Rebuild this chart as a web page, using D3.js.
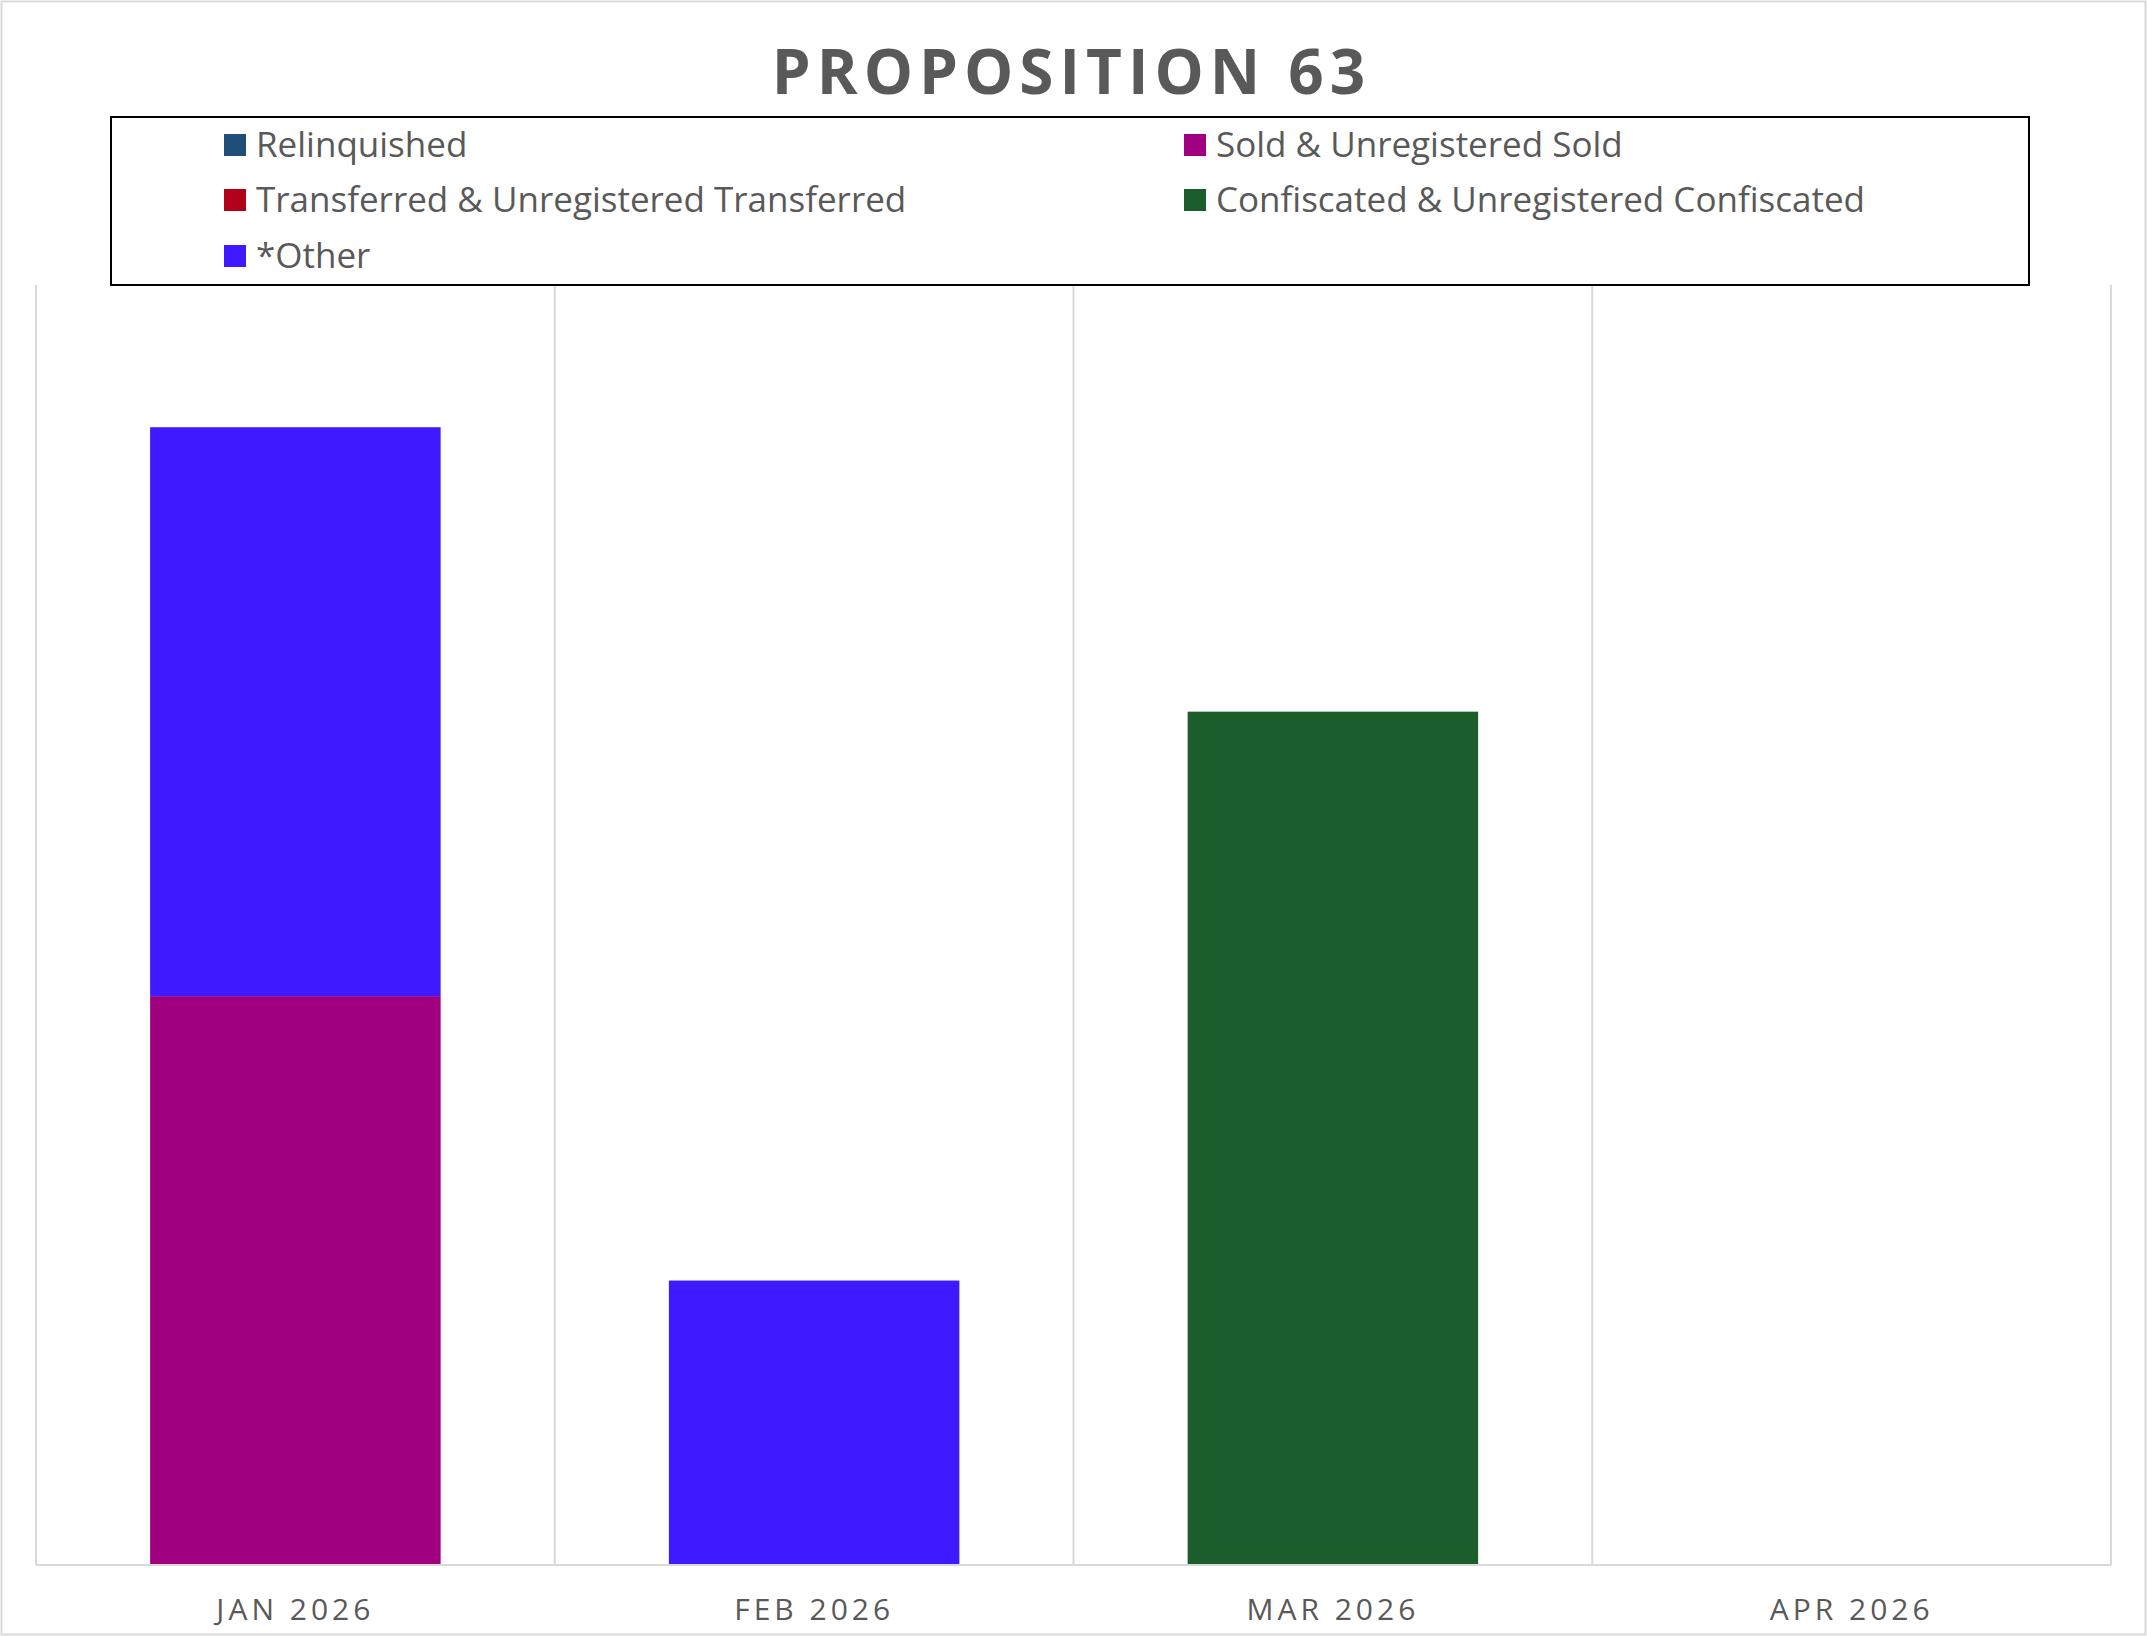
<!DOCTYPE html>
<html><head><meta charset="utf-8">
<script src="https://cdn.jsdelivr.net/npm/d3@7"></script>
<style>body{margin:0;background:#fff}svg{display:block;font-family:"Open Sans",Lato,sans-serif}</style>
</head><body><svg id="c" width="2147" height="1636"></svg>
<script>
const months = ['JAN 2026', 'FEB 2026', 'MAR 2026', 'APR 2026'];
const seriesNames = ['Relinquished', 'Sold & Unregistered Sold', 'Transferred & Unregistered Transferred', 'Confiscated & Unregistered Confiscated', '*Other'];
const seriesColors = ['#1f4e79', '#a0007f', '#b0001a', '#1b5e2c', '#3f19ff'];
const relinquished = [0, 0, 0, 0];
const sold = [2, 0, 0, 0];
const transferred = [0, 0, 0, 0];
const confiscated = [0, 0, 3, 0];
const other = [2, 1, 0, 0];

const svg = d3.select('#c');
const W = 2147, H = 1636;
svg.append('rect').attr('x', 1.5).attr('y', 1.5).attr('width', W - 3).attr('height', H - 3)
  .attr('fill', '#fff').attr('stroke', '#d9d9d9').attr('stroke-width', 2);

svg.append('text').attr('x', W / 2 - 2).attr('y', 94).attr('text-anchor', 'middle')
  .attr('font-size', 62).attr('font-weight', 700).attr('letter-spacing', 6).attr('fill', '#595959')
  .text('PROPOSITION 63');

const m = {left: 36, right: 2111, top: 285, bottom: 1565};
const x = d3.scaleBand().domain(months).range([m.left, m.right]).paddingInner(0).paddingOuter(0);
const y = d3.scaleLinear().domain([0, 4.5]).range([m.bottom, m.top]);

// vertical gridlines at category boundaries
const g = svg.append('g');
months.forEach((mo, i) => {
  const xx = x(mo);
  g.append('line').attr('x1', xx).attr('x2', xx).attr('y1', m.top).attr('y2', m.bottom).attr('stroke', '#d9d9d9').attr('stroke-width', 2);
});
g.append('line').attr('x1', m.right).attr('x2', m.right).attr('y1', m.top).attr('y2', m.bottom).attr('stroke', '#d9d9d9').attr('stroke-width', 2);

const table = months.map((mo, i) => ({month: mo, s0: relinquished[i], s1: sold[i], s2: transferred[i], s3: confiscated[i], s4: other[i]}));
const stack = d3.stack().keys(['s0', 's1', 's2', 's3', 's4'])(table);
const bw = x.bandwidth() * 0.56;
stack.forEach((layer, k) => {
  svg.append('g').attr('fill', seriesColors[k]).selectAll('rect').data(layer.filter(d => d[1] > d[0])).join('rect')
    .attr('x', d => x(d.data.month) + (x.bandwidth() - bw) / 2)
    .attr('y', d => y(d[1])).attr('width', bw).attr('height', d => y(d[0]) - y(d[1]));
});

svg.append('line').attr('x1', m.left).attr('x2', m.right).attr('y1', m.bottom).attr('y2', m.bottom).attr('stroke', '#d9d9d9').attr('stroke-width', 2);
const ax = svg.append('g').attr('transform', `translate(0,${m.bottom})`).call(d3.axisBottom(x).tickSize(0).tickPadding(34));
ax.select('.domain').remove();
ax.selectAll('text').attr('font-size', 30).attr('letter-spacing', 4).attr('fill', '#595959').attr('font-family', '"Open Sans",Lato,sans-serif');

// legend
svg.append('rect').attr('x', 111).attr('y', 117).attr('width', 1918).attr('height', 168).attr('fill', 'none').attr('stroke', '#000').attr('stroke-width', 2);
const colX = [224, 1184], rowY = [145, 200, 256];
seriesNames.forEach((n, i) => {
  const lx = colX[i % 2], ly = rowY[Math.floor(i / 2)];
  svg.append('rect').attr('x', lx).attr('y', ly - 11).attr('width', 22).attr('height', 22).attr('fill', seriesColors[i]);
  svg.append('text').attr('x', lx + 32).attr('y', ly + 12).attr('font-size', 35).attr('fill', '#595959').text(n);
});
</script></body></html>
